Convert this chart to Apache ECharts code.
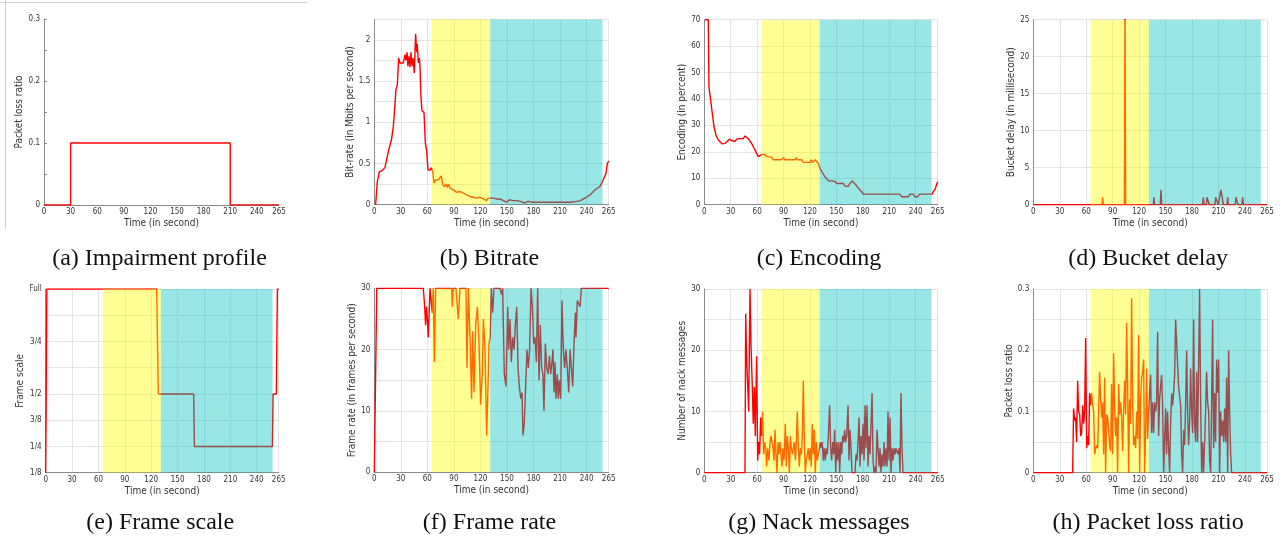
<!DOCTYPE html>
<html><head><meta charset="utf-8">
<script src="https://cdn.jsdelivr.net/npm/echarts@6/dist/echarts.min.js"></script>
<style>html,body{margin:0;padding:0;background:#fff}#c{width:1286px;height:544px}</style>
</head><body><div id="c"></div><script>
// ---------------- DATA ----------------
const timeTicks = [0, 30, 60, 90, 120, 150, 180, 210, 240, 265];
const phaseStart = [65, 131];
const phaseEnd = [131, 258];
const captions = ['(a) Impairment profile', '(b) Bitrate', '(c) Encoding', '(d) Bucket delay',
  '(e) Frame scale', '(f) Frame rate', '(g) Nack messages', '(h) Packet loss ratio'];
const frameScaleLabels = { '0.125': '1/8', '0.25': '1/4', '0.375': '3/8', '0.5': '1/2', '0.75': '3/4', '1': 'Full' };

const impairment = [[0,0],[30,0],[30,0.1],[210,0.1],[210,0],[265,0]];

const bitrate = [[1.5,0],[3.4,0.28],[5.7,0.4],[8.3,0.41],[10,0.43],[12,0.45],[14,0.55],[16,0.65],[17.7,0.65],[19.6,0.8],[21.5,0.95],[22.4,1.07],[24.5,1.4],[26,1.45],[27.5,1.78],[29,1.72],[31,1.74],[32.8,1.72],[34.7,1.82],[35.8,1.75],[37,1.85],[38,1.68],[39.2,1.8],[40.3,1.67],[41.5,1.85],[42.6,1.68],[43.7,1.78],[45.2,1.6],[46.7,2.07],[47.9,1.85],[48.6,1.95],[49.8,1.72],[50.9,1.78],[51.6,1.68],[52.8,1.3],[53.9,1.14],[56.2,1.12],[57.7,0.75],[59.2,0.65],[60.7,0.42],[63,0.42],[64.5,0.45],[66,0.4],[67.5,0.26],[69,0.3],[70.5,0.28],[72.4,0.3],[74.3,0.32],[75.8,0.35],[77.3,0.25],[79,0.22],[81,0.25],[82.6,0.21],[84,0.25],[85.6,0.2],[87.5,0.19],[89.3,0.18],[91.2,0.17],[93,0.15],[95,0.17],[96.9,0.16],[98.8,0.16],[100.7,0.14],[102.5,0.15],[104.4,0.12],[106.3,0.11],[108,0.1],[110,0.11],[112,0.09],[113.8,0.1],[115.7,0.08],[117.6,0.1],[119.5,0.09],[121.4,0.11],[123.3,0.07],[125.2,0.08],[127,0.05],[129,0.08],[131,0.09],[134.6,0.08],[138,0.07],[142,0.07],[146,0.05],[149.7,0.03],[153,0.06],[157,0.05],[161,0.05],[165,0.04],[170,0.02],[174,0.04],[179,0.03],[183.5,0.03],[190,0.03],[196,0.03],[202,0.03],[208,0.03],[214,0.03],[221,0.03],[228.8,0.04],[233,0.05],[236.4,0.07],[240,0.09],[244,0.12],[247,0.15],[249.5,0.18],[252,0.2],[255,0.22],[258.7,0.3],[261.9,0.38],[263.5,0.5],[265,0.53]];

const encoding = [[0.8,70],[4.5,70],[5.3,44.6],[7.2,39.6],[9.1,34.5],[11,29.5],[13.2,26.4],[15.9,24.5],[17.8,23.8],[20.4,23],[23.5,23.2],[26,24],[28.4,24.8],[30,25.1],[31.4,24.2],[35,24],[36.7,24.8],[40.5,25],[44.3,25],[46.2,26],[48,25.7],[50,25],[51.9,25],[53.7,23.2],[55.6,22],[57.5,20.7],[59.4,19.4],[61.3,18.2],[63.2,18.8],[65.1,19],[69,19],[70.8,18.2],[76.5,18],[78.4,17],[87.8,17],[89.7,17.8],[91.6,17],[103,17],[104.5,17.8],[106,17],[110.5,17],[112.4,16],[120,16],[121.5,17],[123,16],[125.7,17],[127.6,17],[129.5,15.6],[131.4,13.7],[133.3,12.5],[137,10.6],[140.9,9],[142.7,8.6],[144.6,9],[146.5,8.6],[148.4,8.8],[150.3,8],[157.9,8],[159.8,7],[163.5,7],[165.4,8],[168,9],[170,9],[172.3,7.4],[175,6.2],[178.7,4.9],[180.6,4],[222,4],[224,3],[231.7,3],[233.5,4],[237.4,4],[239.3,3],[242.3,3],[244.2,4],[245.7,3.5],[248,4],[258.6,4],[260,5],[262,5.8],[263.9,7.8],[265,8.7]];

const bucketDelay = [[0,0],[78,0],[78.6,1],[79.4,0],[103.3,0],[104,30],[104.7,0],[136,0],[136.8,1],[137.6,0],[144,0],[144.8,2],[145.6,0],[192,0],[192.8,1],[193.6,0],[196.2,0],[197,1],[198.8,1],[199.6,0],[206,0],[206.8,1],[209,1],[209.8,0],[211.8,0],[212.8,2],[214.2,1],[215.5,0],[219.6,0],[220.4,1],[221.2,0],[229,0],[229.8,1],[231.3,1],[232.1,0],[236.6,0],[237.4,1],[238.2,0],[265,0]];

const frameScale = [[0,0.125],[1.3,1],[126.2,1],[128.1,0.5],[168.3,0.5],[169.1,0.25],[257.8,0.25],[258.6,0.5],[262.3,0.5],[263.5,1],[265,1]];

const frameRate = [[0,0],[2,0],[2.8,30],[55.4,30],[57,27],[58,24],[59,27],[60,25],[61,22],[63,30],[65.6,26],[66.7,30],[67.9,18],[69.4,30],[87.5,30],[88.2,27],[89.3,30],[92.3,30],[95,25],[96.9,30],[103.6,30],[104.8,17],[106.3,30],[108.2,22],[110,12],[111.2,23],[112.7,13],[114.6,24],[116.5,27],[118.4,21],[120.2,11],[122.1,16],[123.3,25],[125.2,20],[127,6],[128.2,12],[129.7,21],[131,22],[132.3,30],[133.8,26],[135.3,30],[142,30],[144,29],[145.1,30],[147,16],[148.9,14],[150.8,27],[152,20],[153.4,25],[154.9,18],[156.4,22],[158,20],[159.5,24],[161,27],[162.5,17],[164,14],[165.5,12],[167,13],[168.1,6],[169.6,8],[171.1,14],[172.6,20],[174.1,17],[175.6,20],[177.2,30],[178.7,27],[180.2,21],[181.7,22],[183.2,18],[184.7,30],[186.2,15],[187.7,24],[189.2,17],[190.7,16],[191.8,10],[193.4,21],[194.9,17],[196.4,16],[197.9,19],[199.4,16],[200.9,18],[202,20],[203.1,13],[204.3,18],[205.4,12],[206.9,16],[208,12],[209.2,15],[210.7,12],[212.2,28],[213.7,20],[215.2,17],[216.7,20],[218.2,17],[219.8,13],[221.3,20],[222.8,20],[224.3,14],[225.8,21],[227.3,26],[228,22],[229.5,28],[231,28],[232.6,27],[234,30],[265,30]];

const nackMessages = [[0,0],[46.2,0],[47,26],[48,19],[49.2,19],[50.4,10],[51.9,30],[53,21],[54.5,14],[55.6,8],[56.8,14],[57.9,6],[59.4,19],[60.6,2],[61.7,5],[62.8,3],[64,9],[65.1,6],[66.2,10],[67.4,3],[68.5,5],[69.7,4],[70.8,1],[71.9,4],[73.4,2],[74.6,5],[75.7,6],[76.9,5],[78,4],[79.1,2],[80.3,7],[81.4,3],[82.5,0],[83.7,5],[84.8,3],[85.9,5],[87.1,3],[88.2,1],[89.3,4],[90.5,2],[92,8],[93.1,1],[94.3,6],[95.4,4],[96.6,0],[97.7,6],[98.8,4],[100,3],[101.1,4],[102.2,5],[103.4,2],[104.5,5],[105.6,10],[106.8,4],[107.9,1],[109,4],[110.2,3],[111.3,6],[112.4,15],[113.6,5],[114.7,0],[115.8,2],[117,3],[118.1,4],[119.2,2],[120.4,4],[121.5,1],[122.6,8],[123.8,3],[124.9,7],[126,0],[127.2,5],[128.3,2],[129.5,3],[130.6,3],[131.7,5],[132.9,4],[134,5],[135.1,2],[136.3,4],[137.4,2],[138.6,4],[139.7,3],[140.8,6],[142.3,11],[143.5,4],[144.6,2],[145.8,5],[146.9,3],[148,7],[149.2,0],[150.3,5],[151.4,2],[152.6,5],[153.7,0],[154.8,5],[156,3],[157.1,6],[158.2,5],[159.4,7],[160.5,5],[161.7,6],[163.2,11],[164.3,2],[165.4,7],[166.6,4],[167.7,0],[171.1,0],[172.3,3],[173.4,2],[174.5,5],[175.7,9],[176.8,1],[178,6],[179.1,3],[180.2,8],[181.4,2],[182.5,11],[183.6,4],[184.8,11],[185.9,1],[187.1,6],[188.2,3],[189.3,8],[190.5,13],[191.6,2],[192.7,0],[193.8,1],[195,0],[196.1,7],[197.2,4],[198.4,1],[199.5,4],[200.6,0],[201.8,3],[202.9,1],[204.1,5],[205.2,1],[206.3,4],[207.5,1],[208.6,10],[209.7,2],[210.9,9],[212,0],[213.1,4],[214.3,2],[215.4,4],[216.6,3],[217.7,4],[218.8,4],[220,3],[221.1,4],[222.2,0],[223.3,13],[224.5,4],[225.6,0],[265,0]];

const packetLoss = [[0,0],[44.6,0],[45.7,0.105],[46.9,0.085],[48,0.09],[49.1,0.05],[50.3,0.15],[51.4,0.1],[52.6,0.095],[53.7,0.06],[54.8,0.065],[56,0.11],[57.1,0.08],[58.2,0.1],[59.4,0.22],[60.5,0.04],[61.6,0.06],[62.8,0.045],[63.9,0.13],[65,0.11],[66.2,0.13],[67.3,0.11],[68.4,0.1],[69.6,0.03],[70.7,0.04],[71.8,0.045],[73,0.04],[74.1,0.1],[75.2,0.165],[76.4,0.12],[77.5,0.09],[78.6,0.115],[79.8,0.03],[80.9,0.155],[82,0],[83.2,0.095],[84.3,0.09],[85.4,0.07],[86.6,0.045],[87.7,0.035],[88.8,0.145],[90,0.03],[91.1,0.195],[92.2,0.11],[93.4,0.06],[94.5,0.09],[95.6,0],[96.8,0.145],[97.9,0.095],[99,0.115],[100.2,0.09],[101.3,0.035],[102.4,0.1],[103.6,0.15],[104.7,0.095],[105.8,0.245],[107,0.14],[108.1,0],[109.2,0.12],[110.4,0.08],[111.5,0.285],[112.6,0.12],[113.8,0.045],[114.9,0.06],[116,0.04],[117.2,0.1],[118.3,0.055],[119.4,0.225],[120.6,0],[121.7,0.12],[122.8,0.155],[124,0.165],[125.1,0.185],[126.2,0],[127.4,0.07],[128.5,0.17],[129.6,0.055],[130.8,0.1],[131.9,0.1],[133,0.16],[134.2,0.065],[135.3,0.115],[136.4,0.065],[137.6,0.115],[138.7,0.1],[139.8,0.115],[141,0.23],[142.1,0.06],[143.2,0.12],[144.4,0.12],[145.5,0.16],[146.6,0.11],[147.8,0],[148.9,0.055],[150.1,0.105],[151.2,0.03],[152.3,0.1],[153.5,0.04],[154.6,0],[155.7,0.08],[156.9,0.13],[158,0.11],[159.1,0.13],[160.3,0.16],[161.4,0.25],[162.5,0.215],[163.7,0.175],[164.8,0.14],[165.9,0.14],[167.1,0.11],[168.2,0.03],[169.3,0],[170.5,0.07],[171.6,0.045],[172.7,0.11],[173.9,0.2],[175,0.1],[176.1,0.045],[177.3,0.085],[178.4,0.17],[179.5,0.1],[180.7,0.065],[181.8,0.25],[182.9,0.08],[184.1,0.05],[185.2,0.165],[186.3,0.05],[187.5,0.18],[188.6,0.3],[189.7,0.12],[190.9,0],[192,0.05],[193.1,0],[194.3,0.05],[195.4,0.1],[196.5,0.165],[197.7,0.115],[198.8,0.1],[199.9,0.02],[201.1,0],[202.2,0.11],[203.3,0.25],[204.5,0.04],[205.6,0.13],[206.7,0.05],[207.9,0.185],[209,0.13],[210.2,0.185],[211.3,0],[212.4,0.1],[213.6,0.06],[214.7,0.085],[215.8,0.05],[217,0.105],[218.1,0.05],[219.2,0.155],[220.4,0],[221.5,0.2],[222.6,0.1],[223.8,0.03],[224.9,0],[265,0]];

// ---------------- LAYOUT / STYLE ----------------
const SANS = "'Liberation Sans Narrow','DejaVu Sans Condensed',Roboto,sans-serif";
const SERIF = "'Liberation Serif','DejaVu Serif',serif";
const RED = '#ff0000';
const PHASE_COLORS = ['rgba(255,255,0,0.42)', 'rgba(0,192,192,0.40)'];

const tenths = v => (Math.abs(v * 10 - Math.round(v * 10)) < 1e-6) ? String(Math.round(v * 10) / 10) : '';
const halves = v => (Math.abs(v * 2 - Math.round(v * 2)) < 1e-6) ? String(Math.round(v * 2) / 2) : '';
const tens = v => (Math.round(v) % 10 === 0) ? String(Math.round(v)) : '';
const all = v => String(Math.round(v * 1000) / 1000);
const fracs = v => frameScaleLabels[String(Math.round(v * 1000) / 1000)] || '';

const panels = [
  { data: impairment,  grid: [44, 19, 235, 186],   y: [0, 0.3, 0.05], fmt: tenths, name: 'Packet loss ratio', gap: 14, shade: false, split: false },
  { data: bitrate,     grid: [374.3, 19.3, 234.4, 185.4], y: [0, 2.25, 0.25], fmt: halves, name: 'Bit-rate (in Mbits per second)', gap: 14, shade: true, split: true },
  { data: encoding,    grid: [704.3, 19.7, 233.4, 185], y: [0, 70, 10], fmt: all, name: 'Encoding (in percent)', gap: 12, shade: true, split: true },
  { data: bucketDelay, grid: [1033.3, 19.7, 233.7, 185], y: [0, 25, 5], fmt: all, name: 'Bucket delay (in millisecond)', gap: 12.5, shade: true, split: true },
  { data: frameScale,  grid: [45.7, 289, 233, 183.7], y: [0.125, 1, 0.125], fmt: fracs, name: 'Frame scale', gap: 18.5, shade: true, split: true },
  { data: frameRate,   grid: [374.3, 288.3, 234.4, 184], y: [0, 30, 5], fmt: tens, name: 'Frame rate (in frames per second)', gap: 12.5, shade: true, split: true },
  { data: nackMessages,grid: [704.3, 289, 233.4, 183.7], y: [0, 30, 5], fmt: tens, name: 'Number of nack messages', gap: 12.5, shade: true, split: true },
  { data: packetLoss,  grid: [1033.3, 289, 233.7, 183.7], y: [0, 0.3, 0.05], fmt: tenths, name: 'Packet loss ratio', gap: 14.5, shade: true, split: true }
];

const phases = phaseStart.map((s, i) => [s, phaseEnd[i], i]);

const grids = [], xAxes = [], yAxes = [], series = [], graphics = [];
panels.forEach((p, i) => {
  const [l, t, w, h] = p.grid;
  grids.push({ left: l, top: t, width: w, height: h, containLabel: false });
  xAxes.push({
    gridIndex: i, type: 'value', min: 0, max: 265, interval: 30,
    name: 'Time (in second)', nameLocation: 'middle', nameGap: 13.5,
    nameTextStyle: { fontFamily: SANS, fontSize: 10, color: '#333' },
    axisLine: { show: true, lineStyle: { color: '#8a8a8a', width: 1 } },
    axisTick: { show: false },
    axisLabel: { fontFamily: SANS, fontSize: 8, color: '#333', margin: 3,
      formatter: v => timeTicks.includes(Math.round(v)) ? String(Math.round(v)) : '' },
    splitLine: { show: p.split, lineStyle: { color: '#e4e4e4', width: 1 } }
  });
  yAxes.push({
    gridIndex: i, type: 'value', min: p.y[0], max: p.y[1], interval: p.y[2],
    name: p.name, nameLocation: 'middle', nameGap: p.gap, nameRotate: 90,
    nameTextStyle: { fontFamily: SANS, fontSize: 10, color: '#333' },
    axisLine: { show: true, lineStyle: { color: '#8a8a8a', width: 1 } },
    axisTick: { show: !p.split, inside: true, length: 3, lineStyle: { color: '#8a8a8a' } },
    axisLabel: { fontFamily: SANS, fontSize: 8, color: '#333', margin: 4, formatter: p.fmt },
    splitLine: { show: p.split, lineStyle: { color: '#e4e4e4', width: 1 } }
  });
  series.push({
    type: 'line', xAxisIndex: i, yAxisIndex: i, data: p.data, showSymbol: false,
    symbol: 'none', clip: true, z: 2, silent: true,
    lineStyle: { color: RED, width: 1.4 }
  });
  if (p.shade) {
    series.push({
      type: 'custom', xAxisIndex: i, yAxisIndex: i, z: 5, silent: true, clip: true,
      data: phases,
      renderItem: (params, api) => {
        const cs = params.coordSys;
        const x0 = api.coord([api.value(0), p.y[0]])[0];
        const x1 = api.coord([api.value(1), p.y[0]])[0];
        return { type: 'rect', shape: { x: x0, y: cs.y, width: x1 - x0, height: cs.height },
          style: { fill: PHASE_COLORS[api.value(2)] } };
      }
    });
  }
  graphics.push({
    type: 'text', x: l + w / 2 - 2, y: i < 4 ? 259 : 523,
    style: { text: captions[i], font: '24px ' + SERIF, fill: '#111', textAlign: 'center', textVerticalAlign: 'middle' }
  });
});

// frame around the first (embedded) figure
graphics.push({ type: 'line', shape: { x1: 0, y1: 2.5, x2: 307, y2: 2.5 }, style: { stroke: '#cfcfcf', lineWidth: 1 } });
graphics.push({ type: 'line', shape: { x1: 5.5, y1: 0, x2: 5.5, y2: 229 }, style: { stroke: '#cfcfcf', lineWidth: 1 } });

const chart = echarts.init(document.getElementById('c'), null, { renderer: 'canvas' });
chart.setOption({
  animation: false,
  backgroundColor: '#ffffff',
  grid: grids, xAxis: xAxes, yAxis: yAxes, series: series, graphic: graphics
});
</script></body></html>
